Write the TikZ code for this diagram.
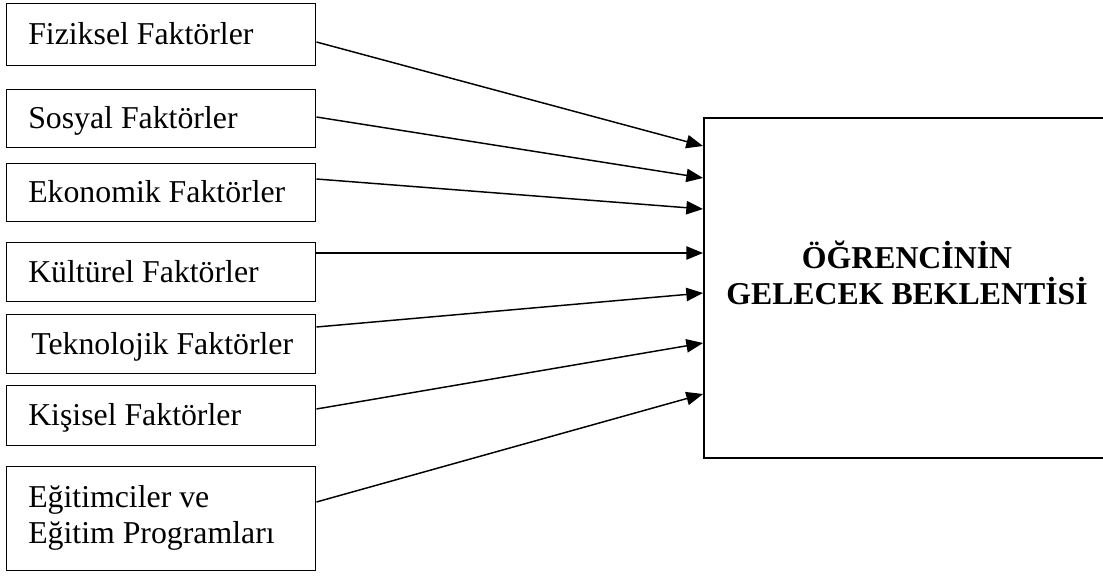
\documentclass[tikz,border=0pt]{standalone}
\usepackage{fontspec}
\setmainfont{Liberation Serif}
\usetikzlibrary{arrows.meta}
\newcommand{\diagfont}{\fontsize{23.85pt}{27.4pt}\selectfont}
\tikzset{
  fbox/.style={draw, line width=1.1pt, rectangle, inner sep=0pt, anchor=north west,
    minimum width=231.75pt},
  lbl/.style={inner sep=0pt, font=\diagfont},
  goal/.style={draw, line width=1.4pt, rectangle, inner sep=0pt, anchor=north west,
    minimum width=306pt, minimum height=255pt},
  arr/.style={line width=1.1pt, -{Triangle[length=12.5pt,width=10pt]}},
}
\begin{document}
\begin{tikzpicture}[x=0.75pt,y=-0.75pt]
\useasboundingbox (0,0) rectangle (1103,575);
\clip (0,0) rectangle (1103,575);
% left boxes
\node[fbox, minimum height=46.5pt] (b1) at (6,3) {};
\node[fbox, minimum height=43.5pt] (b2) at (6,89) {};
\node[fbox, minimum height=43.5pt] (b3) at (6,163) {};
\node[fbox, minimum height=44.25pt] (b4) at (6,242) {};
\node[fbox, minimum height=44.25pt] (b5) at (6,314) {};
\node[fbox, minimum height=45pt] (b6) at (6,385) {};
\node[fbox, minimum height=78pt] (b7) at (6,466) {};
% labels
\node[lbl, anchor=base west] (t1) at (28,44.5) {Fiziksel Faktörler};
\node[lbl, anchor=base west] (t2) at (28,128.5) {Sosyal Faktörler};
\node[lbl, anchor=base west] (t3) at (28,202.5) {Ekonomik Faktörler};
\node[lbl, anchor=base west] (t4) at (28,282) {Kültürel Faktörler};
\node[lbl, anchor=base west] (t5) at (31,354) {Teknolojik Faktörler};
\node[lbl, anchor=base west] (t6) at (28,425.5) {Kişisel Faktörler};
\node[lbl, anchor=west, align=left] (t7) at (28,518) {Eğitimciler ve\\Eğitim Programları};
% goal box
\node[goal] (g) at (703,117) {};
\node[lbl, align=center, font=\diagfont\bfseries] (gt) at (907,273) {ÖĞRENCİNİN\\GELECEK BEKLENTİSİ};
% arrows
\draw[arr] (b1.east |- 0,42) -- (g.west |- 0,146);
\draw[arr] (b2.east |- 0,117) -- (g.west |- 0,178);
\draw[arr] (b3.east |- 0,179) -- (g.west |- 0,209);
\draw[arr] (b4.east |- 0,253) -- (g.west |- 0,253);
\draw[arr] (b5.east |- 0,327) -- (g.west |- 0,293);
\draw[arr] (b6.east |- 0,409) -- (g.west |- 0,343);
\draw[arr] (b7.east |- 0,502) -- (g.west |- 0,394);
\end{tikzpicture}
\end{document}
